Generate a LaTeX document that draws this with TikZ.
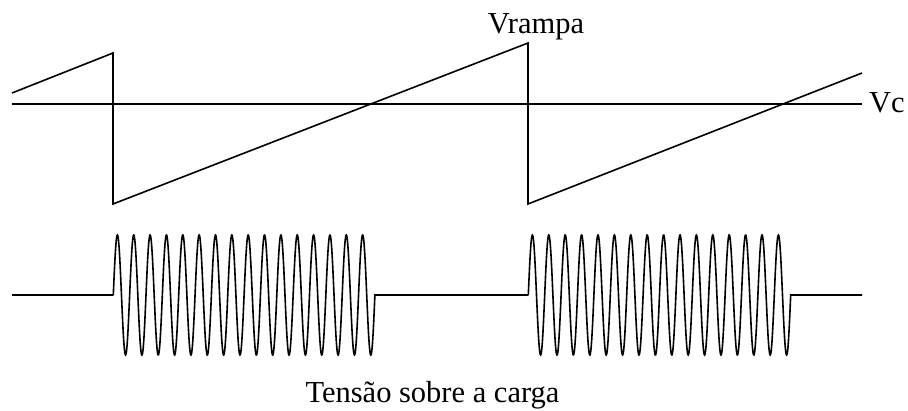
\documentclass[tikz,border=0pt]{standalone}
\usepackage{fontspec}
\setmainfont{Liberation Serif}
\begin{document}
\begin{tikzpicture}[x=1pt,y=-1pt,
  wave/.style={line width=1.6pt,line join=miter},
  lbl/.style={inner sep=0pt,font=\fontsize{30.5}{32}\selectfont}]
\useasboundingbox (0,0) rectangle (908,410);
% Vc reference level
\draw[wave] (12,104) -- (862,104);
% ramp
\draw[wave] (12,93) -- (113,53) -- (113,204) -- (528,43) -- (528,204) -- (862,73);
% load voltage
\draw[wave] (12,295) -- (113.3,295)
  plot[domain=0:5760,samples=900] ({113.3+\x/360*16.35},{295-60*sin(\x)})
  -- (528.3,295)
  plot[domain=0:5760,samples=900] ({528.3+\x/360*16.4},{295-60*sin(\x)})
  -- (862,295);
\node[lbl,anchor=base] (vr) at (536,33) {Vrampa};
\node[lbl,anchor=base west] (vc) at (869,112) {Vc};
\node[lbl,anchor=base] (ts) at (432.5,402.5) {Tensão sobre a carga};
\end{tikzpicture}
\end{document}
